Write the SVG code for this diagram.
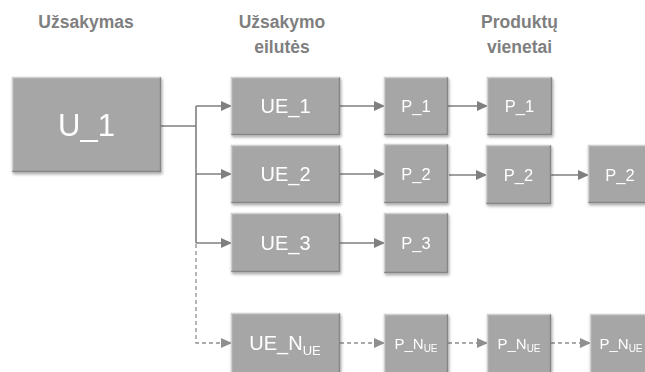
<svg xmlns="http://www.w3.org/2000/svg" width="645" height="372" viewBox="0 0 645 372">
<style>
.hdr{font-family:"Liberation Sans",Arial,sans-serif;font-weight:bold;font-size:17.5px;fill:#7f7f7f;text-anchor:middle}
.box{fill:#a6a6a6}
.hi{fill:none;stroke:#cfcfcf;stroke-width:1.5}
.lo{fill:none;stroke:#858585;stroke-width:1.5}
.lbl{font-family:"Liberation Sans",Arial,sans-serif;fill:#ffffff;text-anchor:middle}
.c{fill:none;stroke:#7f7f7f;stroke-width:1.6}
.d{fill:none;stroke:#8f8f8f;stroke-width:1.3;stroke-dasharray:4,3}
</style>
<defs>
<filter id="sh" x="-10%" y="-10%" width="130%" height="140%">
<feDropShadow dx="1" dy="2" stdDeviation="1.4" flood-color="#000" flood-opacity="0.35"/>
</filter>
<marker id="a" markerWidth="11" markerHeight="10" refX="10" refY="5" orient="auto" markerUnits="userSpaceOnUse">
<path d="M0,0 L11,5 L0,10 Z" fill="#7f7f7f"/>
</marker>
<marker id="ad" markerWidth="11" markerHeight="10" refX="10" refY="5" orient="auto" markerUnits="userSpaceOnUse">
<path d="M0,0 L11,5 L0,10 Z" fill="#8f8f8f"/>
</marker>
</defs>
<rect width="645" height="372" fill="#ffffff"/>

<g id="headers">
<text class="hdr" x="86" y="28">Užsakymas</text>
<text class="hdr" x="282" y="28">Užsakymo</text>
<text class="hdr" x="282" y="53">eilutės</text>
<text class="hdr" x="519.5" y="28">Produktų</text>
<text class="hdr" x="519.5" y="53">vienetai</text>
</g>

<g id="connectors">
<path class="c" d="M161,126 H196"/>
<path class="c" d="M196,106 V243"/>
<path class="c" d="M196,106 H231" marker-end="url(#a)"/>
<path class="c" d="M196,174 H231" marker-end="url(#a)"/>
<path class="c" d="M196,243 H231" marker-end="url(#a)"/>
<path class="d" d="M196,244 V343 H231" marker-end="url(#ad)"/>
<path class="c" d="M340,106 H384" marker-end="url(#a)"/>
<path class="c" d="M448,106 H487" marker-end="url(#a)"/>
<path class="c" d="M340,174 H384" marker-end="url(#a)"/>
<path class="c" d="M449,175 H486" marker-end="url(#a)"/>
<path class="c" d="M551,175 H588" marker-end="url(#a)"/>
<path class="c" d="M340,243 H384" marker-end="url(#a)"/>
<path class="d" d="M340,343 H384" marker-end="url(#ad)"/>
<path class="d" d="M448,343 H487" marker-end="url(#ad)"/>
<path class="d" d="M551,343 H590" marker-end="url(#ad)"/>
</g>

<g id="U_1" filter="url(#sh)">
<rect class="box" x="12" y="77" width="149" height="95"/>
<path class="hi" d="M12.5,171 V77.5 H160.5"/>
<path class="lo" d="M12.5,171.5 H160.5 V77.5"/>
<text class="lbl" x="86.5" y="136" font-size="31">U_1</text>
</g>

<g id="UE_1" filter="url(#sh)">
<rect class="box" x="231" y="77" width="109" height="58"/>
<path class="hi" d="M231.5,134 V77.5 H339.5"/>
<path class="lo" d="M231.5,134.5 H339.5 V77.5"/>
<text class="lbl" x="285.5" y="113" font-size="20">UE_1</text>
</g>
<g id="UE_2" filter="url(#sh)">
<rect class="box" x="231" y="145" width="109" height="58"/>
<path class="hi" d="M231.5,202 V145.5 H339.5"/>
<path class="lo" d="M231.5,202.5 H339.5 V145.5"/>
<text class="lbl" x="285.5" y="181" font-size="20">UE_2</text>
</g>
<g id="UE_3" filter="url(#sh)">
<rect class="box" x="231" y="213" width="109" height="59"/>
<path class="hi" d="M231.5,271 V213.5 H339.5"/>
<path class="lo" d="M231.5,271.5 H339.5 V213.5"/>
<text class="lbl" x="285.5" y="250" font-size="20">UE_3</text>
</g>
<g id="UE_N" filter="url(#sh)">
<rect class="box" x="231" y="313" width="109" height="59"/>
<path class="hi" d="M231.5,372 V313.5 H339.5"/>
<path class="lo" d="M339.5,313.5 V372"/>
<text class="lbl" x="285" y="350" font-size="20">UE_N<tspan font-size="13" dy="5">UE</tspan></text>
</g>

<g id="P_1a" filter="url(#sh)">
<rect class="box" x="384" y="77" width="64" height="58"/>
<path class="hi" d="M384.5,134 V77.5 H447.5"/>
<path class="lo" d="M384.5,134.5 H447.5 V77.5"/>
<text class="lbl" x="416" y="112" font-size="16.5">P_1</text>
</g>
<g id="P_1b" filter="url(#sh)">
<rect class="box" x="487" y="77" width="65" height="58"/>
<path class="hi" d="M487.5,134 V77.5 H551.5"/>
<path class="lo" d="M487.5,134.5 H551.5 V77.5"/>
<text class="lbl" x="519.5" y="112" font-size="16.5">P_1</text>
</g>
<g id="P_2a" filter="url(#sh)">
<rect class="box" x="384" y="144" width="64" height="59"/>
<path class="hi" d="M384.5,202 V144.5 H447.5"/>
<path class="lo" d="M384.5,202.5 H447.5 V144.5"/>
<text class="lbl" x="416" y="180" font-size="16.5">P_2</text>
</g>
<g id="P_2b" filter="url(#sh)">
<rect class="box" x="486" y="145" width="65" height="59"/>
<path class="hi" d="M486.5,203 V145.5 H550.5"/>
<path class="lo" d="M486.5,203.5 H550.5 V145.5"/>
<text class="lbl" x="518.5" y="181" font-size="16.5">P_2</text>
</g>
<g id="P_2c" filter="url(#sh)">
<rect class="box" x="588" y="145" width="64" height="58"/>
<path class="hi" d="M588.5,202 V145.5 H652"/>
<path class="lo" d="M588.5,202.5 H652"/>
<text class="lbl" x="620" y="181" font-size="16.5">P_2</text>
</g>
<g id="P_3" filter="url(#sh)">
<rect class="box" x="384" y="213" width="64" height="60"/>
<path class="hi" d="M384.5,272 V213.5 H447.5"/>
<path class="lo" d="M384.5,272.5 H447.5 V213.5"/>
<text class="lbl" x="416" y="249" font-size="16.5">P_3</text>
</g>
<g id="P_Na" filter="url(#sh)">
<rect class="box" x="384" y="314" width="64" height="58"/>
<path class="hi" d="M384.5,372 V314.5 H447.5"/>
<path class="lo" d="M447.5,314.5 V372"/>
<text class="lbl" x="416" y="349" font-size="15">P_N<tspan font-size="10" dy="3">UE</tspan></text>
</g>
<g id="P_Nb" filter="url(#sh)">
<rect class="box" x="487" y="314" width="64" height="58"/>
<path class="hi" d="M487.5,372 V314.5 H550.5"/>
<path class="lo" d="M550.5,314.5 V372"/>
<text class="lbl" x="519" y="349" font-size="15">P_N<tspan font-size="10" dy="3">UE</tspan></text>
</g>
<g id="P_Nc" filter="url(#sh)">
<rect class="box" x="590" y="314" width="62" height="58"/>
<path class="hi" d="M590.5,372 V314.5 H652"/>
<text class="lbl" x="621" y="349" font-size="15">P_N<tspan font-size="10" dy="3">UE</tspan></text>
</g>
</svg>
